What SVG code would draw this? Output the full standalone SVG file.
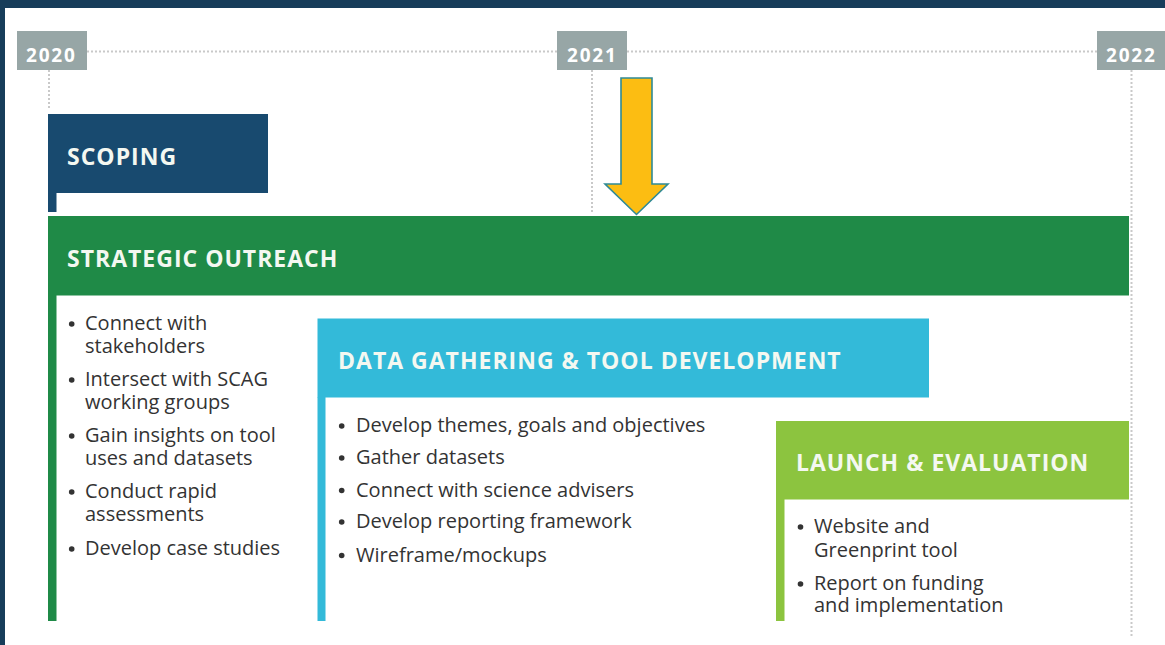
<svg xmlns="http://www.w3.org/2000/svg" width="1165" height="645" viewBox="0 0 1165 645">
<defs>
<style>
.frame{fill:#173d5a}
.year rect{fill:#97a6a6}
.year text{font-family:"Open Sans","Liberation Sans",sans-serif;font-weight:700;font-size:19px;fill:#ffffff;letter-spacing:1.8px}
.dot{stroke:#c9c9c9;stroke-width:2;stroke-dasharray:2 2;fill:none}
.hdr{font-family:"Open Sans","Liberation Sans",sans-serif;font-weight:700;font-size:23px;fill:#f4f8f1;letter-spacing:1px}
.body{font-family:"Open Sans","Liberation Sans",sans-serif;font-size:20px;fill:#333333}
.bul{fill:#333333}
.scoping{fill:#184a6f}
.strategic{fill:#1f8a47}
.data{fill:#33bad9}
.launch{fill:#8cc43f}
</style>
</defs>
<rect x="0" y="0" width="1165" height="645" fill="#ffffff"/>
<rect class="frame" x="0" y="0" width="1165" height="8"/>
<rect class="frame" x="0" y="0" width="5" height="645"/>

<g id="timeline">
<line class="dot" x1="87" y1="51.5" x2="557" y2="51.5"/>
<line class="dot" x1="627" y1="51.5" x2="1097" y2="51.5"/>
<line class="dot" x1="49" y1="70" x2="49" y2="110"/>
<line class="dot" x1="592" y1="70" x2="592" y2="214"/>
<line class="dot" x1="1131.5" y1="70" x2="1131.5" y2="636"/>
</g>

<g id="year-2020" class="year"><rect x="17" y="31" width="70" height="39"/><text x="26" y="61.5">2020</text></g>
<g id="year-2021" class="year"><rect x="557" y="31" width="70" height="39"/><text x="567" y="61.5">2021</text></g>
<g id="year-2022" class="year"><rect x="1097" y="31" width="68" height="39"/><text x="1106" y="61.5">2022</text></g>

<g id="scoping">
<rect class="scoping" x="48" y="114" width="220" height="79"/>
<rect class="scoping" x="48" y="192" width="8.5" height="20"/>
<text class="hdr" x="67" y="165">SCOPING</text>
</g>

<g id="strategic-outreach">
<rect class="strategic" x="48" y="216" width="1081" height="79.5"/>
<rect class="strategic" x="48" y="295" width="8.5" height="326"/>
<text class="hdr" x="67" y="267">STRATEGIC OUTREACH</text>
<g class="bul">
<circle cx="71.7" cy="324" r="2.8"/><circle cx="71.7" cy="380" r="2.8"/><circle cx="71.7" cy="436" r="2.8"/><circle cx="71.7" cy="492" r="2.8"/><circle cx="71.7" cy="549" r="2.8"/>
</g>
<text class="body" x="85" y="330">Connect with</text>
<text class="body" x="85" y="353">stakeholders</text>
<text class="body" x="85" y="386">Intersect with SCAG</text>
<text class="body" x="85" y="409">working groups</text>
<text class="body" x="85" y="442">Gain insights on tool</text>
<text class="body" x="85" y="465">uses and datasets</text>
<text class="body" x="85" y="498">Conduct rapid</text>
<text class="body" x="85" y="521">assessments</text>
<text class="body" x="85" y="555">Develop case studies</text>
</g>

<g id="data-gathering">
<rect class="data" x="317.5" y="318.5" width="611.5" height="79"/>
<rect class="data" x="317.5" y="397" width="8" height="224"/>
<text class="hdr" x="338" y="369">DATA GATHERING &amp; TOOL DEVELOPMENT</text>
<g class="bul">
<circle cx="341.7" cy="426" r="2.8"/><circle cx="341.7" cy="458" r="2.8"/><circle cx="341.7" cy="490.5" r="2.8"/><circle cx="341.7" cy="522" r="2.8"/><circle cx="341.7" cy="555.5" r="2.8"/>
</g>
<text class="body" x="356" y="432">Develop themes, goals and objectives</text>
<text class="body" x="356" y="464">Gather datasets</text>
<text class="body" x="356" y="496.5">Connect with science advisers</text>
<text class="body" x="356" y="528">Develop reporting framework</text>
<text class="body" x="356" y="561.5">Wireframe/mockups</text>
</g>

<g id="launch-evaluation">
<rect class="launch" x="776" y="421" width="353" height="78.5"/>
<rect class="launch" x="776" y="499" width="8.5" height="122"/>
<text class="hdr" x="796" y="471">LAUNCH &amp; EVALUATION</text>
<g class="bul">
<circle cx="800.5" cy="527" r="2.8"/><circle cx="800.5" cy="584" r="2.8"/>
</g>
<text class="body" x="814" y="533">Website and</text>
<text class="body" x="814" y="556.5">Greenprint tool</text>
<text class="body" x="814" y="590">Report on funding</text>
<text class="body" x="814" y="612">and implementation</text>
</g>

<g id="connectors">
<path d="M621 78 H652 V184 H668 L636.5 214.5 L605 184 H621 Z" fill="#fcbd12" stroke="#2f8a96" stroke-width="1.6" stroke-linejoin="miter"/>
</g>
</svg>
